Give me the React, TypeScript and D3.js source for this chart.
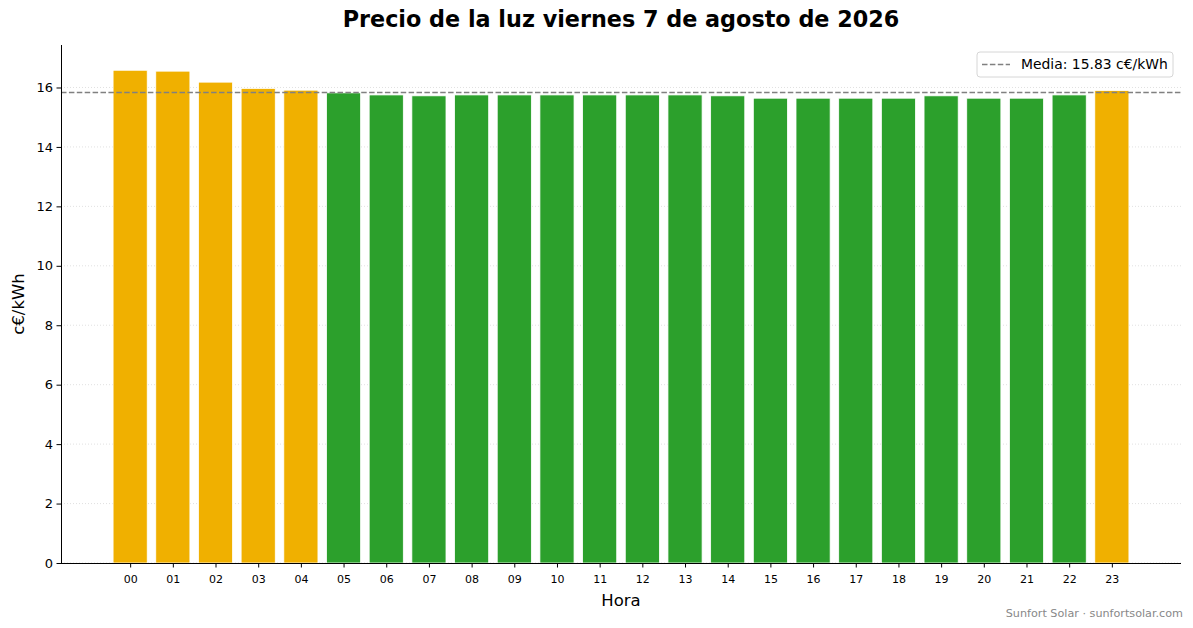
import { useEffect, useRef } from 'react'
import * as d3 from 'd3'

const hours = ['00', '01', '02', '03', '04', '05', '06', '07', '08', '09', '10', '11',
  '12', '13', '14', '15', '16', '17', '18', '19', '20', '21', '22', '23']
const prices = [16.58, 16.55, 16.18, 15.97, 15.91, 15.82, 15.75, 15.72, 15.75, 15.75, 15.75, 15.75,
  15.75, 15.75, 15.72, 15.64, 15.64, 15.64, 15.64, 15.72, 15.64, 15.64, 15.75, 15.90]
const mean = 15.83
const yTicks = [0, 2, 4, 6, 8, 10, 12, 14, 16]

const ORANGE = '#f0b000'
const GREEN = '#2ca02c'
const FONT = 'DejaVu Sans, sans-serif'

export default function App() {
  const svgRef = useRef<SVGSVGElement>(null)

  useEffect(() => {
    document.body.style.margin = '0'
    if (!svgRef.current) return
    const W = 1193
    const H = 628
    const svg = d3.select(svgRef.current)
    svg.selectAll('*').remove()
    svg.attr('width', W).attr('height', H).style('display', 'block')

    const margin = { top: 45, right: 12, bottom: 65, left: 61 }
    const w = W - margin.left - margin.right
    const h = H - margin.top - margin.bottom

    const x = d3.scaleLinear().domain([-1.62, 24.62]).range([0, w])
    const y = d3.scaleLinear().domain([0, 17.43]).range([h, 0])
    const bw = x(0.8) - x(0)

    const g = svg.append('g').attr('transform', `translate(${margin.left},${margin.top})`)

    // grid
    g.append('g')
      .selectAll('line')
      .data(yTicks)
      .enter()
      .append('line')
      .attr('x1', 0)
      .attr('x2', w)
      .attr('y1', d => y(d))
      .attr('y2', d => y(d))
      .attr('stroke', '#d9d9d9')
      .attr('stroke-width', 0.8)
      .attr('stroke-dasharray', '1,2')

    // bars
    g.append('g')
      .selectAll('rect')
      .data(prices)
      .enter()
      .append('rect')
      .attr('x', (_, i) => x(i) - bw / 2)
      .attr('y', d => y(d))
      .attr('width', bw)
      .attr('height', d => y(0) - y(d))
      .attr('fill', d => (d > mean ? ORANGE : GREEN))
      .attr('stroke', 'white')
      .attr('stroke-width', 0.8)

    // mean line
    g.append('line')
      .attr('x1', 0)
      .attr('x2', w)
      .attr('y1', y(mean))
      .attr('y2', y(mean))
      .attr('stroke', '#808080')
      .attr('stroke-width', 1.5)
      .attr('stroke-dasharray', '5.5,2.4')

    // x axis
    const xAxis = g.append('g')
      .attr('transform', `translate(0,${h})`)
      .call(d3.axisBottom(x).tickValues(d3.range(hours.length)).tickFormat(i => hours[i as number]).tickSizeOuter(0).tickSize(4.5))
    xAxis.select('.domain').attr('stroke', '#000').attr('stroke-width', 1)
      .attr('d', `M0,0.5H${w}`)
    xAxis.selectAll('text').attr('font-family', FONT).attr('font-size', 11).attr('fill', '#000').attr('dy', '1.1em')

    // y axis
    const yAxis = g.append('g')
      .call(d3.axisLeft(y).tickValues(yTicks).tickSizeOuter(0).tickSize(4.5))
    yAxis.select('.domain').attr('stroke', '#000').attr('stroke-width', 1)
      .attr('d', `M0.5,${h}V0`)
    yAxis.selectAll('text').attr('font-family', FONT).attr('font-size', 13).attr('fill', '#000').attr('x', -8)

    // title
    svg.append('text')
      .attr('x', margin.left + w / 2)
      .attr('y', 27)
      .attr('text-anchor', 'middle')
      .attr('font-family', FONT)
      .attr('font-weight', 'bold')
      .attr('font-size', 22.3)
      .text('Precio de la luz viernes 7 de agosto de 2026')

    // axis labels
    svg.append('text')
      .attr('x', margin.left + w / 2)
      .attr('y', 606)
      .attr('text-anchor', 'middle')
      .attr('font-family', FONT)
      .attr('font-size', 16.5)
      .text('Hora')

    svg.append('text')
      .attr('transform', `translate(24,${margin.top + h / 2}) rotate(-90)`)
      .attr('text-anchor', 'middle')
      .attr('font-family', FONT)
      .attr('font-size', 16.5)
      .text('c€/kWh')

    // legend
    const lg = svg.append('g').attr('transform', 'translate(977,52)')
    lg.append('rect')
      .attr('width', 196)
      .attr('height', 25)
      .attr('rx', 3)
      .attr('fill', 'white')
      .attr('fill-opacity', 0.8)
      .attr('stroke', '#d6d6d6')
    lg.append('line')
      .attr('x1', 5)
      .attr('x2', 33)
      .attr('y1', 12.5)
      .attr('y2', 12.5)
      .attr('stroke', '#808080')
      .attr('stroke-width', 1.5)
      .attr('stroke-dasharray', '5.5,2.4')
    lg.append('text')
      .attr('x', 44)
      .attr('y', 17)
      .attr('font-family', FONT)
      .attr('font-size', 13.9)
      .text(`Media: ${mean.toFixed(2)} c€/kWh`)

    // footer
    svg.append('text')
      .attr('x', 1183)
      .attr('y', 617)
      .attr('text-anchor', 'end')
      .attr('font-family', FONT)
      .attr('font-size', 11.2)
      .attr('fill', '#888')
      .text('Sunfort Solar · sunfortsolar.com')
  }, [])

  return <svg ref={svgRef} />
}
